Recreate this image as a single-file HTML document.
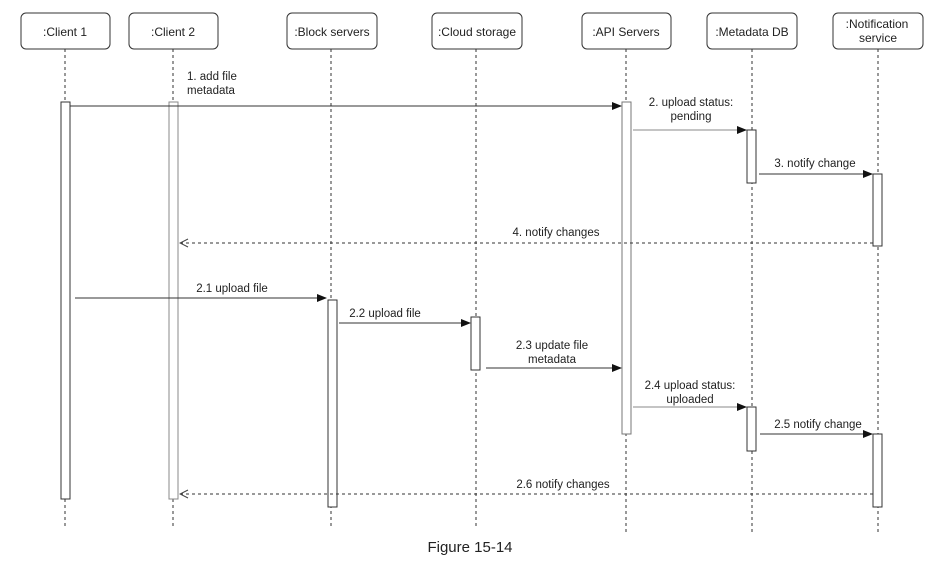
<!DOCTYPE html>
<html><head><meta charset="utf-8"><style>
html,body{margin:0;padding:0;background:#fff;}
svg{display:block;font-family:"Liberation Sans",sans-serif;}
</style></head><body>
<svg width="939" height="575" viewBox="0 0 939 575" xmlns="http://www.w3.org/2000/svg">
<defs>
<marker id="a" markerWidth="10" markerHeight="8" refX="9" refY="4" orient="auto" markerUnits="userSpaceOnUse"><path d="M0,0 L10,4 L0,8 z" fill="#111"/></marker>
<marker id="o" markerWidth="10" markerHeight="10" refX="9" refY="5" orient="auto" markerUnits="userSpaceOnUse"><path d="M1,1 L9,5 L1,9" fill="none" stroke="#444" stroke-width="1"/></marker>
</defs>
<rect width="939" height="575" fill="#fff"/>
<g fill="#fff" stroke="#333" stroke-width="1">
<rect x="21" y="13" width="89" height="36" rx="5"/>
<rect x="129" y="13" width="89" height="36" rx="5"/>
<rect x="287" y="13" width="90" height="36" rx="5"/>
<rect x="432" y="13" width="90" height="36" rx="5"/>
<rect x="582" y="13" width="89" height="36" rx="5"/>
<rect x="707" y="13" width="90" height="36" rx="5"/>
<rect x="833" y="13" width="90" height="36" rx="5"/>
</g>
<g font-size="12" fill="#222" text-anchor="middle">
<text x="65" y="36">:Client 1</text>
<text x="173" y="36">:Client 2</text>
<text x="332" y="36">:Block servers</text>
<text x="477" y="36">:Cloud storage</text>
<text x="626" y="36">:API Servers</text>
<text x="752" y="36">:Metadata DB</text>
<text x="877" y="28">:Notification</text>
<text x="878" y="42">service</text>
</g>
<g stroke="#333" stroke-width="1" stroke-dasharray="3,3">
<line x1="65" y1="49" x2="65" y2="526"/>
<line x1="173" y1="49" x2="173" y2="526"/>
<line x1="331" y1="49" x2="331" y2="526"/>
<line x1="476" y1="49" x2="476" y2="526"/>
<line x1="626" y1="49" x2="626" y2="534"/>
<line x1="752" y1="49" x2="752" y2="534"/>
<line x1="878" y1="49" x2="878" y2="534"/>
</g>
<g fill="#fff" stroke="#333" stroke-width="1">
<rect x="61" y="102" width="9" height="397"/>
<rect x="169" y="102" width="9" height="397" stroke="#888"/>
<rect x="622" y="102" width="9" height="332" stroke="#777"/>
<rect x="747" y="130" width="9" height="53"/>
<rect x="873" y="174" width="9" height="72"/>
<rect x="328" y="300" width="9" height="207"/>
<rect x="471" y="317" width="9" height="53"/>
<rect x="747" y="407" width="9" height="44"/>
<rect x="873" y="434" width="9" height="73"/>
</g>
<g stroke="#333" stroke-width="1" fill="none">
<line x1="70" y1="106" x2="621" y2="106" marker-end="url(#a)"/>
<line x1="633" y1="130" x2="746" y2="130" stroke="#888" marker-end="url(#a)"/>
<line x1="759" y1="174" x2="872" y2="174" marker-end="url(#a)"/>
<line x1="873" y1="243" x2="180" y2="243" stroke-dasharray="3,3" marker-end="url(#o)"/>
<line x1="75" y1="298" x2="326" y2="298" marker-end="url(#a)"/>
<line x1="339" y1="323" x2="470" y2="323" marker-end="url(#a)"/>
<line x1="486" y1="368" x2="621" y2="368" marker-end="url(#a)"/>
<line x1="633" y1="407" x2="746" y2="407" stroke="#888" marker-end="url(#a)"/>
<line x1="760" y1="434" x2="872" y2="434" marker-end="url(#a)"/>
<line x1="873" y1="494" x2="180" y2="494" stroke-dasharray="3,3" marker-end="url(#o)"/>
</g>
<g font-size="11.5" fill="#222">
<text x="187" y="80">1. add file</text>
<text x="187" y="94">metadata</text>
<g text-anchor="middle">
<text x="691" y="106">2. upload status:</text>
<text x="691" y="120">pending</text>
<text x="815" y="167">3. notify change</text>
<text x="556" y="236">4. notify changes</text>
<text x="232" y="292">2.1 upload file</text>
<text x="385" y="317">2.2 upload file</text>
<text x="552" y="349">2.3 update file</text>
<text x="552" y="363">metadata</text>
<text x="690" y="389">2.4 upload status:</text>
<text x="690" y="403">uploaded</text>
<text x="818" y="428">2.5 notify change</text>
<text x="563" y="488">2.6 notify changes</text>
</g>
</g>
<text x="470" y="552" font-size="15" text-anchor="middle" fill="#222">Figure 15-14</text>
</svg>
</body></html>
